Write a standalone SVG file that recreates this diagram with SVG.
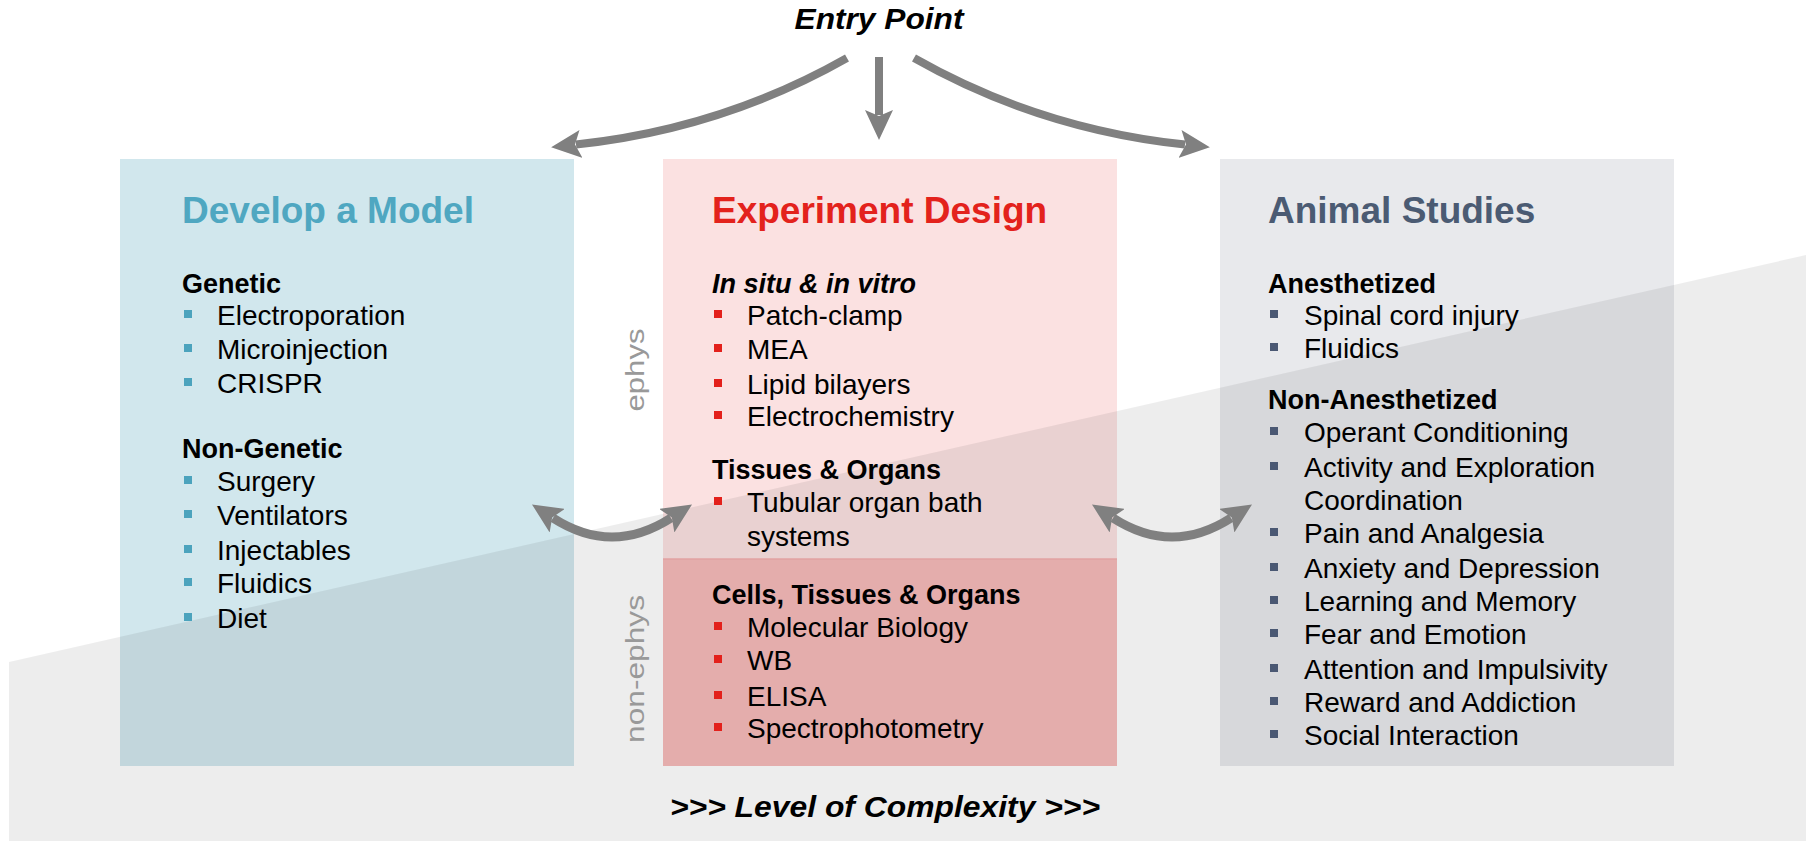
<svg xmlns="http://www.w3.org/2000/svg" width="1806" height="841" viewBox="0 0 1806 841">
<defs>
<style>
text{font-family:"Liberation Sans",Arial,sans-serif;}
.title{font-size:37px;font-weight:bold;}
.sub{font-size:27px;font-weight:bold;fill:#000;}
.item{font-size:28px;fill:#000;}
.cap{font-size:29px;font-weight:bold;font-style:italic;fill:#000;}
.side{font-size:25px;fill:#999999;}
.conn{fill:none;stroke:#808080;stroke-width:8;}
.b1{fill:#4BA3BD;}
.b2{fill:#E3201B;}
.b3{fill:#4A5873;}
</style>
<marker id="ah" viewBox="0 0 30 28" refX="5" refY="14" markerWidth="30" markerHeight="28" markerUnits="userSpaceOnUse" orient="auto-start-reverse">
<path d="M0,0 L30,14 L0,28 L6,14 z" fill="#808080"/>
</marker>
</defs>
<rect x="0" y="0" width="1806" height="841" fill="#ffffff"/>
<g id="boxes">
<rect x="120" y="159" width="454" height="607" fill="#D1E7ED"/>
<rect x="663" y="159" width="454" height="400" fill="#FBE1E1"/>
<rect x="663" y="559" width="454" height="207" fill="#F6BBBA"/>
<rect x="1220" y="159" width="454" height="607" fill="#E8E9EC"/>
</g>
<polygon id="complexity-band" points="9,662 1806,255 1806,841 9,841" fill="#000000" fill-opacity="0.07"/>
<line x1="663" y1="559" x2="1117" y2="559" stroke="#E2A2A2" stroke-width="1.5"/>

<g id="connectors">
<path class="conn" d="M847,58 Q722,129 576,144.5" marker-end="url(#ah)"/>
<path class="conn" d="M879,57 L879,115" marker-end="url(#ah)"/>
<path class="conn" d="M914,58 Q1039,129 1185,144.5" marker-end="url(#ah)"/>
<path class="conn" style="stroke-width:9" d="M553,518 Q612,556 671,518" marker-start="url(#ah)" marker-end="url(#ah)"/>
<path class="conn" style="stroke-width:9" d="M1113,518 Q1172,556 1231,518" marker-start="url(#ah)" marker-end="url(#ah)"/>
</g>

<g id="entry-point">
<text class="cap" x="879" y="29" text-anchor="middle" textLength="169" lengthAdjust="spacingAndGlyphs">Entry Point</text>
</g>

<g id="node-develop-model">
<text class="title" x="182" y="223" fill="#4FA7C1">Develop a Model</text>
<text class="sub" x="182" y="293">Genetic</text>
<rect class="b1" x="184" y="310" width="8" height="8"/><text class="item" x="217" y="325">Electroporation</text>
<rect class="b1" x="184" y="344" width="8" height="8"/><text class="item" x="217" y="359">Microinjection</text>
<rect class="b1" x="184" y="378" width="8" height="8"/><text class="item" x="217" y="393">CRISPR</text>
<text class="sub" x="182" y="458">Non-Genetic</text>
<rect class="b1" x="184" y="476" width="8" height="8"/><text class="item" x="217" y="491">Surgery</text>
<rect class="b1" x="184" y="510" width="8" height="8"/><text class="item" x="217" y="525">Ventilators</text>
<rect class="b1" x="184" y="545" width="8" height="8"/><text class="item" x="217" y="560">Injectables</text>
<rect class="b1" x="184" y="578" width="8" height="8"/><text class="item" x="217" y="593">Fluidics</text>
<rect class="b1" x="184" y="613" width="8" height="8"/><text class="item" x="217" y="628">Diet</text>
</g>

<g id="node-experiment-design">
<text class="title" x="712" y="223" fill="#E3221C">Experiment Design</text>
<text class="sub" x="712" y="293" font-style="italic">In situ &amp; in vitro</text>
<rect class="b2" x="714" y="310" width="8" height="8"/><text class="item" x="747" y="325">Patch-clamp</text>
<rect class="b2" x="714" y="344" width="8" height="8"/><text class="item" x="747" y="359">MEA</text>
<rect class="b2" x="714" y="379" width="8" height="8"/><text class="item" x="747" y="394">Lipid bilayers</text>
<rect class="b2" x="714" y="411" width="8" height="8"/><text class="item" x="747" y="426">Electrochemistry</text>
<text class="sub" x="712" y="479">Tissues &amp; Organs</text>
<rect class="b2" x="714" y="497" width="8" height="8"/><text class="item" x="747" y="512">Tubular organ bath</text>
<text class="item" x="747" y="546">systems</text>
<text class="sub" x="712" y="604">Cells, Tissues &amp; Organs</text>
<rect class="b2" x="714" y="622" width="8" height="8"/><text class="item" x="747" y="637">Molecular Biology</text>
<rect class="b2" x="714" y="655" width="8" height="8"/><text class="item" x="747" y="670">WB</text>
<rect class="b2" x="714" y="691" width="8" height="8"/><text class="item" x="747" y="706">ELISA</text>
<rect class="b2" x="714" y="723" width="8" height="8"/><text class="item" x="747" y="738">Spectrophotometry</text>
</g>

<g id="node-animal-studies">
<text class="title" x="1268" y="223" fill="#4B5B73">Animal Studies</text>
<text class="sub" x="1268" y="293">Anesthetized</text>
<rect class="b3" x="1270" y="310" width="8" height="8"/><text class="item" x="1304" y="325">Spinal cord injury</text>
<rect class="b3" x="1270" y="343" width="8" height="8"/><text class="item" x="1304" y="358">Fluidics</text>
<text class="sub" x="1268" y="409">Non-Anesthetized</text>
<rect class="b3" x="1270" y="427" width="8" height="8"/><text class="item" x="1304" y="442">Operant Conditioning</text>
<rect class="b3" x="1270" y="462" width="8" height="8"/><text class="item" x="1304" y="477">Activity and Exploration</text>
<text class="item" x="1304" y="510">Coordination</text>
<rect class="b3" x="1270" y="528" width="8" height="8"/><text class="item" x="1304" y="543">Pain and Analgesia</text>
<rect class="b3" x="1270" y="563" width="8" height="8"/><text class="item" x="1304" y="578">Anxiety and Depression</text>
<rect class="b3" x="1270" y="596" width="8" height="8"/><text class="item" x="1304" y="611">Learning and Memory</text>
<rect class="b3" x="1270" y="629" width="8" height="8"/><text class="item" x="1304" y="644">Fear and Emotion</text>
<rect class="b3" x="1270" y="664" width="8" height="8"/><text class="item" x="1304" y="679">Attention and Impulsivity</text>
<rect class="b3" x="1270" y="697" width="8" height="8"/><text class="item" x="1304" y="712">Reward and Addiction</text>
<rect class="b3" x="1270" y="730" width="8" height="8"/><text class="item" x="1304" y="745">Social Interaction</text>
</g>

<g id="side-labels">
<text class="side" x="644" y="370" text-anchor="middle" transform="rotate(-90 644 370)" textLength="83" lengthAdjust="spacingAndGlyphs">ephys</text>
<text class="side" x="644" y="669" text-anchor="middle" transform="rotate(-90 644 669)" textLength="148" lengthAdjust="spacingAndGlyphs">non-ephys</text>
</g>

<g id="complexity-label">
<text class="cap" x="885" y="817" text-anchor="middle" textLength="430" lengthAdjust="spacingAndGlyphs">&gt;&gt;&gt; Level of Complexity &gt;&gt;&gt;</text>
</g>
</svg>
